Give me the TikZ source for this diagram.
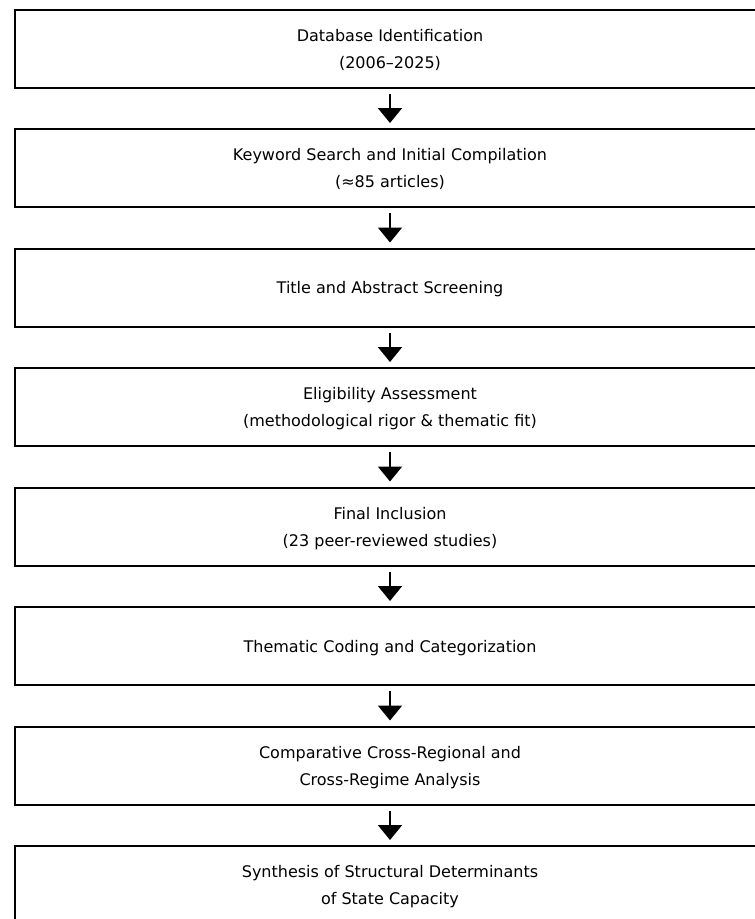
\documentclass[tikz,border=0pt]{standalone}
\usepackage{fontspec}
\setmainfont{DejaVu Sans}
\usetikzlibrary{positioning, arrows.meta}
\tikzset{stage/.style = {draw, line width = 2pt, minimum width = 751pt, minimum height = 78pt,
                         align = center, inner sep = 0, outer sep = 0, text depth = 0pt,
                         font = \fontsize{16}{27}\selectfont}}
\tikzset{flow/.style = {line width = 2pt, -{Triangle[length = 15pt, width = 24pt]},
                        shorten <= 6pt, shorten >= 6pt}}

\begin{document}
\begin{tikzpicture}[x = 1pt, y = 1pt, node distance = 41.5pt]
    \clip (0, 0) rectangle (755, -919);
    \useasboundingbox (0, 0) rectangle (755, -919);
    \node [stage] (db) at (390, -48.5) {Database Identification\\(2006–2025)};
    \node [stage, below = of db] (search) {Keyword Search and Initial Compilation\\(≈85 articles)};
    \node [stage, below = of search] (screen) {Title and Abstract Screening};
    \node [stage, below = of screen] (elig) {Eligibility Assessment\\(methodological rigor \& thematic fit)};
    \node [stage, below = of elig] (incl) {Final Inclusion\\(23 peer-reviewed studies)};
    \node [stage, below = of incl] (coding) {Thematic Coding and Categorization};
    \node [stage, below = of coding] (comp) {Comparative Cross-Regional and\\Cross-Regime Analysis};
    \node [stage, below = of comp] (synth) {Synthesis of Structural Determinants\\of State Capacity};
    \foreach \a/\b in {db/search, search/screen, screen/elig, elig/incl,
                       incl/coding, coding/comp, comp/synth}
      \draw [flow] (\a) -- (\b);
  \end{tikzpicture}
\end{document}
